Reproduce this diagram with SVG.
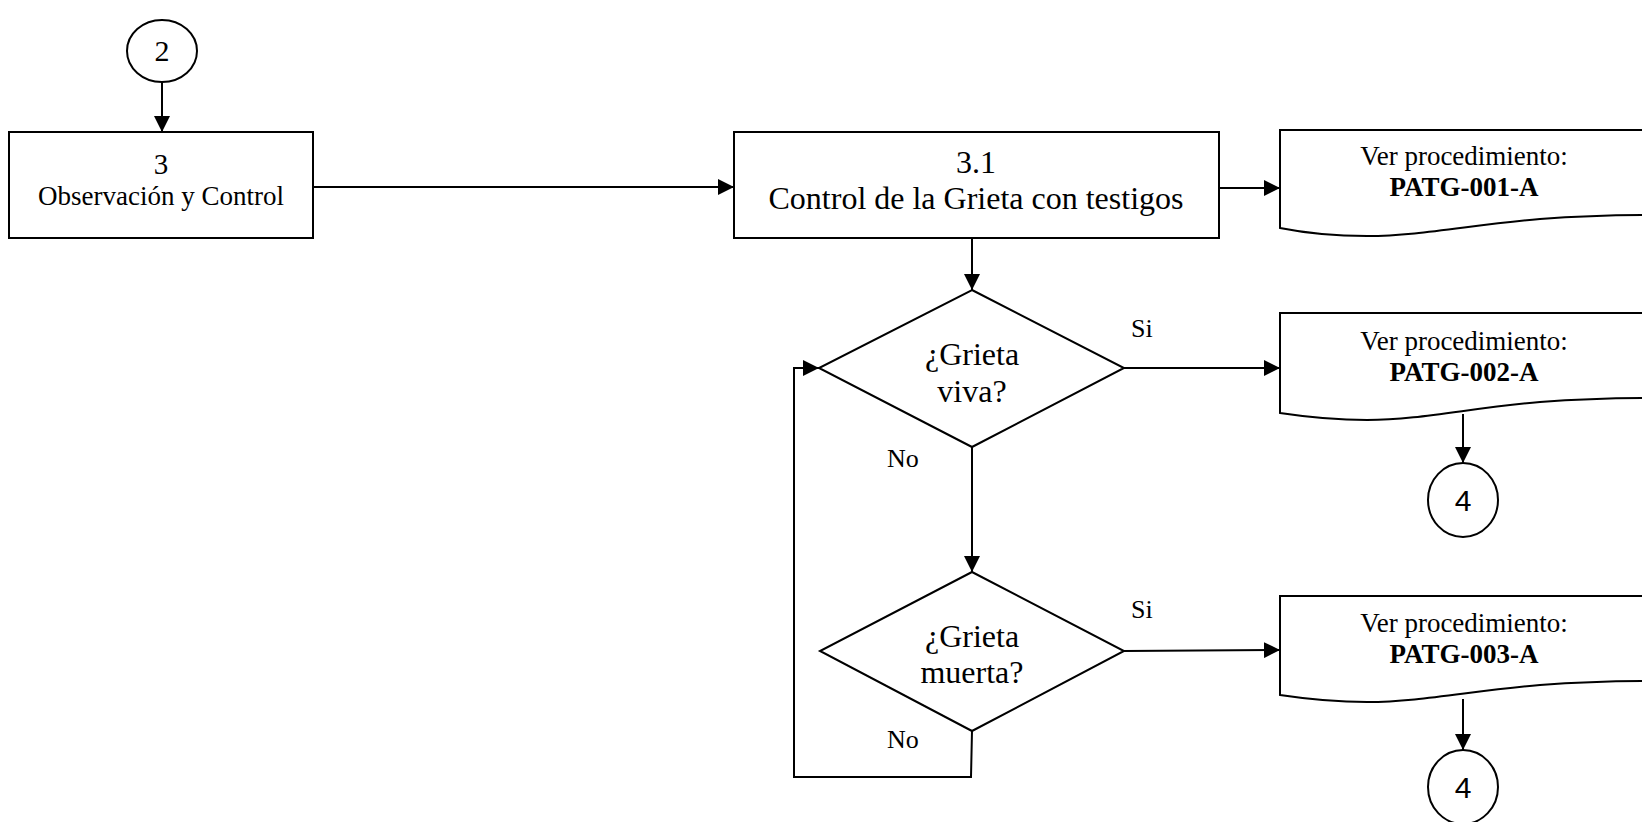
<svg xmlns="http://www.w3.org/2000/svg" width="1642" height="822" viewBox="0 0 1642 822">
<style>
  .shape { fill: #ffffff; stroke: #000000; stroke-width: 2; }
  .conn { fill: none; stroke: #000000; stroke-width: 2; }
  .serif { font-family: "Liberation Serif", "Times New Roman", serif; fill: #000000; text-anchor: middle; }
  .sans { font-family: "Liberation Sans", Arial, sans-serif; fill: #000000; text-anchor: middle; }
  .lbl { font-family: "Liberation Serif", "Times New Roman", serif; fill: #000000; font-size: 26px; }
  .big { font-size: 32px; }
  .mid { font-size: 27px; }
  .small { font-size: 27px; }
  .bold { font-weight: bold; font-size: 27px; }
</style>
<defs>
  <marker id="ah" viewBox="0 0 16 16" refX="16" refY="8" markerWidth="16" markerHeight="16" markerUnits="userSpaceOnUse" orient="auto">
    <path d="M0,0 L16,8 L0,16 z" fill="#000000"/>
  </marker>
</defs>
<rect width="1642" height="822" fill="#ffffff"/>

<g id="connectors">
  <path class="conn" d="M162,82 L162,132" marker-end="url(#ah)"/>
  <path class="conn" d="M313,187 L734,187" marker-end="url(#ah)"/>
  <path class="conn" d="M1219,188 L1280,188" marker-end="url(#ah)"/>
  <path class="conn" d="M972,238 L972,290" marker-end="url(#ah)"/>
  <path class="conn" d="M1124,368 L1280,368" marker-end="url(#ah)"/>
  <path class="conn" d="M972,447 L972,572" marker-end="url(#ah)"/>
  <path class="conn" d="M1124,651 L1280,650" marker-end="url(#ah)"/>
  <path class="conn" d="M1463,414 L1463,463" marker-end="url(#ah)"/>
  <path class="conn" d="M1463,699 L1463,750" marker-end="url(#ah)"/>
  <path class="conn" d="M972,731 L971,777 L794,777 L794,368 L819,368" marker-end="url(#ah)"/>
</g>

<g id="node-c2">
  <ellipse class="shape" cx="162" cy="51" rx="35" ry="31"/>
  <text class="serif" x="162" y="61" font-size="30">2</text>
</g>

<g id="node-3">
  <rect class="shape" x="9" y="132" width="304" height="106"/>
  <text class="serif" x="161" y="174" font-size="29">3</text>
  <text class="serif mid" x="161" y="205">Observación y Control</text>
</g>

<g id="node-3-1">
  <rect class="shape" x="734" y="132" width="485" height="106"/>
  <text class="serif big" x="976" y="173">3.1</text>
  <text class="serif big" x="976" y="209">Control de la Grieta con testigos</text>
</g>

<g id="node-doc1">
  <path class="shape" d="M1650,215 C1600,215 1580,216 1540,219 C1470,225 1420,236 1367,236 C1330,236 1300,232 1280,228 L1280,130 L1650,130"/>
  <text class="serif small" x="1464" y="165">Ver procedimiento:</text>
  <text class="serif bold" x="1464" y="196">PATG-001-A</text>
</g>

<g id="node-d1">
  <polygon class="shape" points="972,290 1124,368 972,447 819,368"/>
  <text class="serif big" x="972" y="365">¿Grieta</text>
  <text class="serif big" x="972" y="402">viva?</text>
</g>

<g id="node-doc2">
  <path class="shape" d="M1650,398 C1600,398 1580,399 1540,402 C1470,408 1420,420 1367,420 C1330,420 1300,416 1280,413 L1280,313 L1650,313"/>
  <text class="serif small" x="1464" y="350">Ver procedimiento:</text>
  <text class="serif bold" x="1464" y="381">PATG-002-A</text>
</g>

<g id="node-c4a">
  <ellipse class="shape" cx="1463" cy="500" rx="35" ry="37"/>
  <text class="sans" x="1463" y="511" font-size="30">4</text>
</g>

<g id="node-d2">
  <polygon class="shape" points="972,572 1124,651 972,731 820,651"/>
  <text class="serif big" x="972" y="647">¿Grieta</text>
  <text class="serif big" x="972" y="683">muerta?</text>
</g>

<g id="node-doc3">
  <path class="shape" d="M1650,681 C1600,681 1580,682 1540,685 C1470,691 1420,702 1367,702 C1330,702 1300,698 1280,695 L1280,596 L1650,596"/>
  <text class="serif small" x="1464" y="632">Ver procedimiento:</text>
  <text class="serif bold" x="1464" y="663">PATG-003-A</text>
</g>

<g id="node-c4b">
  <ellipse class="shape" cx="1463" cy="787" rx="35" ry="37"/>
  <text class="sans" x="1463" y="798" font-size="30">4</text>
</g>

<g id="labels">
  <text class="lbl" x="1131" y="337">Si</text>
  <text class="lbl" x="887" y="467">No</text>
  <text class="lbl" x="1131" y="618">Si</text>
  <text class="lbl" x="887" y="748">No</text>
</g>
</svg>
